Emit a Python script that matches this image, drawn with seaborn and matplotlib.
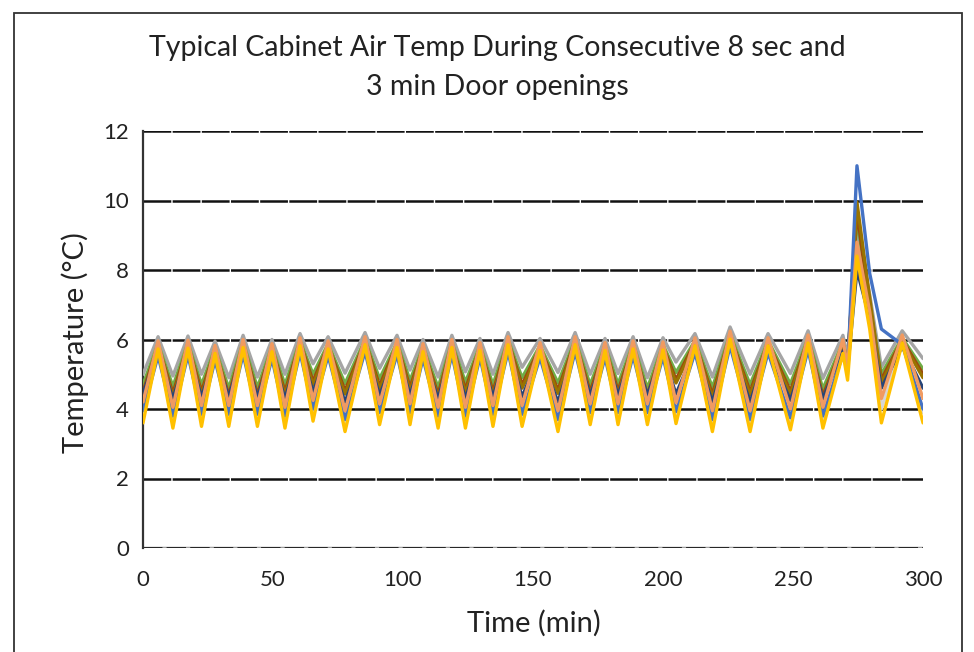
import matplotlib
matplotlib.use("Agg")
import matplotlib.pyplot as plt
import seaborn as sns
import pandas as pd
from matplotlib.patches import Rectangle

# ---------------- data ----------------
time_min = [0, 5.8, 11.5, 17.3, 22.5, 27.7, 33, 38.5, 44, 49.6,
            54.6, 60.4, 65.4, 71.2, 77.7, 85.4, 91, 97.7, 102.7, 107.7,
            113.5, 118.8, 124, 129.6, 134.6, 140.4, 145.8, 152.7, 159.6, 166.2,
            172, 177.7, 182.7, 188.5, 194, 200, 205, 212.3, 219, 225.8,
            233.5, 240.4, 249, 255.8, 261.5, 269.2, 271, 274.6, 279.5, 284,
            292, 300]

probe_gray = [5.00, 6.08, 4.95, 6.10, 5.00, 5.95, 4.90, 6.12, 4.92, 6.00,
              5.00, 6.17, 5.30, 6.08, 5.03, 6.20, 5.17, 6.12, 5.12, 6.00,
              4.92, 6.12, 5.07, 6.03, 5.00, 6.20, 5.20, 6.03, 5.05, 6.20,
              5.00, 6.03, 5.02, 6.08, 4.90, 6.05, 5.35, 6.17, 4.92, 6.36,
              5.00, 6.17, 5.02, 6.25, 4.88, 6.12, 5.50, 9.15, 7.30, 5.20,
              6.25, 5.45]
probe_green = [4.70, 5.88, 4.65, 5.90, 4.70, 5.75, 4.60, 5.92, 4.62, 5.80,
               4.70, 5.97, 5.00, 5.88, 4.73, 6.00, 4.87, 5.92, 4.82, 5.80,
               4.62, 5.92, 4.77, 5.83, 4.70, 6.00, 4.90, 5.83, 4.75, 6.00,
               4.70, 5.83, 4.72, 5.88, 4.60, 5.85, 5.05, 5.97, 4.62, 6.16,
               4.70, 5.97, 4.72, 6.05, 4.58, 5.92, 5.30, 9.50, 7.00, 5.00,
               6.05, 5.15]
probe_brown = [4.50, 5.83, 4.45, 5.85, 4.50, 5.70, 4.40, 5.87, 4.42, 5.75,
               4.50, 5.92, 4.80, 5.83, 4.53, 5.95, 4.67, 5.87, 4.62, 5.75,
               4.42, 5.87, 4.57, 5.78, 4.50, 5.95, 4.70, 5.78, 4.55, 5.95,
               4.50, 5.78, 4.52, 5.83, 4.40, 5.80, 4.85, 5.92, 4.42, 6.11,
               4.50, 5.92, 4.52, 6.00, 4.38, 5.87, 5.20, 9.70, 6.90, 4.85,
               6.00, 5.00]
probe_olive = [4.40, 5.78, 4.35, 5.80, 4.40, 5.65, 4.30, 5.82, 4.32, 5.70,
               4.40, 5.87, 4.70, 5.78, 4.43, 5.90, 4.57, 5.82, 4.52, 5.70,
               4.32, 5.82, 4.47, 5.73, 4.40, 5.90, 4.60, 5.73, 4.45, 5.90,
               4.40, 5.73, 4.42, 5.78, 4.30, 5.75, 4.75, 5.87, 4.32, 6.06,
               4.40, 5.87, 4.42, 5.95, 4.28, 5.82, 5.20, 9.95, 7.20, 4.75,
               5.95, 4.90]
probe_orange = [4.20, 5.96, 4.05, 5.98, 4.10, 5.83, 4.10, 6.00, 4.10, 5.88,
                4.05, 6.05, 4.25, 5.96, 3.95, 6.08, 4.15, 6.00, 4.15, 5.88,
                4.05, 6.00, 4.05, 5.91, 4.10, 6.08, 4.10, 5.91, 3.95, 6.08,
                4.15, 5.91, 4.15, 5.96, 4.15, 5.93, 4.18, 6.05, 3.95, 6.24,
                3.95, 6.05, 4.00, 6.13, 4.05, 6.00, 5.20, 8.80, 6.80, 4.30,
                6.13, 4.30]
probe_darkblue = [4.45, 5.63, 4.30, 5.65, 4.35, 5.50, 4.35, 5.67, 4.35, 5.55,
                  4.30, 5.72, 4.50, 5.63, 4.20, 5.75, 4.40, 5.67, 4.40, 5.55,
                  4.30, 5.67, 4.30, 5.58, 4.35, 5.75, 4.35, 5.58, 4.20, 5.75,
                  4.40, 5.58, 4.40, 5.63, 4.40, 5.60, 4.43, 5.72, 4.20, 5.91,
                  4.20, 5.72, 4.25, 5.80, 4.30, 5.67, 5.15, 8.00, 6.60, 4.60,
                  5.80, 4.60]
probe_blue = [3.95, 5.53, 3.80, 5.55, 3.85, 5.40, 3.85, 5.57, 3.85, 5.45,
              3.80, 5.62, 4.00, 5.53, 3.70, 5.65, 3.90, 5.57, 3.90, 5.45,
              3.80, 5.57, 3.80, 5.48, 3.85, 5.65, 3.85, 5.48, 3.70, 5.65,
              3.90, 5.48, 3.90, 5.53, 3.90, 5.50, 3.93, 5.62, 3.70, 5.81,
              3.70, 5.62, 3.75, 5.70, 3.80, 5.57, 5.10, 11.00, 7.90, 6.30,
              5.85, 4.00]
probe_lightgray = [3.75, 5.78, 3.60, 5.80, 3.65, 5.65, 3.65, 5.82, 3.65, 5.70,
                   3.60, 5.87, 3.80, 5.78, 3.50, 5.90, 3.70, 5.82, 3.70, 5.70,
                   3.60, 5.82, 3.60, 5.73, 3.65, 5.90, 3.65, 5.73, 3.50, 5.90,
                   3.70, 5.73, 3.70, 5.78, 3.70, 5.75, 3.73, 5.87, 3.50, 6.06,
                   3.50, 5.87, 3.55, 5.95, 3.60, 5.82, 5.00, 8.65, 6.90, 4.00,
                   5.95, 3.90]
probe_gold = [3.60, 5.73, 3.45, 5.75, 3.50, 5.60, 3.50, 5.77, 3.50, 5.65,
              3.45, 5.82, 3.65, 5.73, 3.35, 5.85, 3.55, 5.77, 3.55, 5.65,
              3.45, 5.77, 3.45, 5.68, 3.50, 5.85, 3.50, 5.68, 3.35, 5.85,
              3.55, 5.68, 3.55, 5.73, 3.55, 5.70, 3.58, 5.82, 3.35, 6.01,
              3.35, 5.82, 3.40, 5.90, 3.45, 5.60, 4.83, 8.40, 6.30, 3.60,
              5.90, 3.60]

series_names = ["P1", "P2", "P3", "P4", "P5", "P6", "P7", "P8", "P9"]
series_values = [probe_lightgray, probe_gray, probe_green, probe_brown, probe_olive,
                 probe_darkblue, probe_blue, probe_orange, probe_gold]
series_colors = ["#D6D6D6", "#A5A5A5", "#70AD47", "#9E480E", "#997300",
                 "#264478", "#4472C4", "#F19A60", "#FFC000"]

y_ticks = [0, 2, 4, 6, 8, 10, 12]
x_ticks = [0, 50, 100, 150, 200, 250, 300]

title_text = "Typical Cabinet Air Temp During Consecutive 8 sec and\n3 min Door openings"
x_label = "Time (min)"
y_label = "Temperature (°C)"

# ---------------- build long table ----------------
rows = []
for name, vals in zip(series_names, series_values):
    for t, v in zip(time_min, vals):
        rows.append({"time": t, "temp": v, "series": name})
df = pd.DataFrame(rows)

# ---------------- plot ----------------
sns.set_theme(style="white")
plt.rcParams["font.family"] = ["Lato", "DejaVu Sans"]
plt.rcParams["lines.scale_dashes"] = False

fig = plt.figure(figsize=(9.74, 6.52), dpi=100)
ax = fig.add_axes([143 / 974, 1 - 548 / 652, 780 / 974, 417 / 652])

for yv in y_ticks[1:]:
    ax.axhline(yv, color="#111111", lw=1.8, linestyle=(0, (20, 1)),
               dash_capstyle="butt", zorder=1)
ax.axhline(0, color="#A0A0A0", lw=2.5, zorder=1)
ax.axhline(0, color="#111111", lw=1.2, linestyle=(0, (14, 3)),
           dash_capstyle="butt", zorder=1.1)

sns.lineplot(data=df, x="time", y="temp", hue="series",
             palette=dict(zip(series_names, series_colors)),
             hue_order=series_names, sort=False, errorbar=None,
             linewidth=2.4, legend=False, ax=ax, zorder=3)
for ln in ax.get_lines():
    ln.set_solid_joinstyle("round")

ax.set_xlim(0, 300)
ax.set_ylim(0, 12)
ax.set_xticks(x_ticks)
ax.set_yticks(y_ticks)
ax.set_xticklabels([str(v) for v in x_ticks], fontsize=16, color="#222222")
ax.set_yticklabels([str(v) for v in y_ticks], fontsize=16, color="#222222")
ax.tick_params(axis="x", length=0, pad=16)
ax.tick_params(axis="y", length=0, pad=10)
ax.set_xlabel("")
ax.set_ylabel("")
for s in ["top", "right", "bottom"]:
    ax.spines[s].set_visible(False)
ax.spines["left"].set_color("#333333")
ax.spines["left"].set_linewidth(1.6)

fig.text(497 / 974, 1 - 67.5 / 652, title_text, ha="center", va="center",
         fontsize=20.5, linespacing=1.6, color="#222222")
fig.text(534 / 974, 1 - 623 / 652, x_label, ha="center", va="center",
         fontsize=21, color="#222222")
fig.text(75 / 974, 1 - 343 / 652, y_label, ha="center", va="center",
         rotation=90, fontsize=21, color="#222222")

fig.add_artist(Rectangle((14 / 974, -0.02), 948 / 974, 1 - 13 / 652 + 0.02,
                         transform=fig.transFigure, fill=False,
                         edgecolor="#333333", lw=1.3))

fig.savefig("out.png", dpi=100)
